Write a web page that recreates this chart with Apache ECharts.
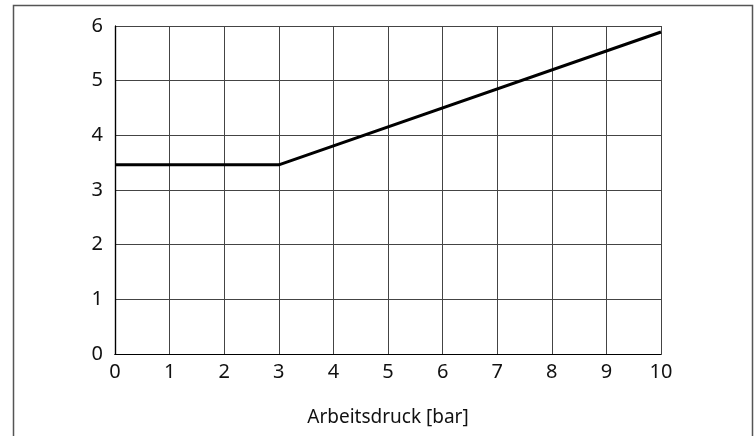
<!DOCTYPE html>
<html><head><meta charset="utf-8">
<script src="https://cdn.jsdelivr.net/npm/echarts@6/dist/echarts.min.js"></script>
<style>html,body{margin:0;padding:0;background:#fff}#c{width:756px;height:436px}</style>
</head><body><div id="c"></div>
<script>
const xValues = [0, 3, 10];
const yValues = [3.46, 3.46, 5.89];
const xTicks = [0,1,2,3,4,5,6,7,8,9,10];
const yTicks = [0,1,2,3,4,5,6];
const xTitle = 'Arbeitsdruck [bar]';

const chart = echarts.init(document.getElementById('c'));
const font = 'Noto Sans';
const frameAxis = {show: true, lineStyle: {color: '#000', width: 1.2}};
chart.setOption({
  animation: false,
  backgroundColor: '#fff',
  graphic: [{
    type: 'rect', shape: {x: 13.5, y: 5.5, width: 739, height: 460},
    style: {fill: 'none', stroke: '#555', lineWidth: 1.5}, z: 0
  }],
  grid: {left: 115, top: 26, right: 95, bottom: 82, containLabel: false},
  xAxis: [{
    type: 'value', min: xTicks[0], max: xTicks[xTicks.length-1], interval: 1,
    name: xTitle, nameLocation: 'middle', nameGap: 54,
    nameTextStyle: {fontFamily: font, fontSize: 19, color: '#111'},
    axisLine: frameAxis,
    axisTick: {show: false},
    axisLabel: {fontFamily: font, fontSize: 20, color: '#111', margin: 8},
    splitLine: {show: true, lineStyle: {color: '#444', width: 1}}
  }, {
    type: 'value', position: 'top', min: 0, max: 10, axisLine: frameAxis,
    axisTick: {show: false}, axisLabel: {show: false}, splitLine: {show: false}
  }],
  yAxis: [{
    type: 'value', min: yTicks[0], max: yTicks[yTicks.length-1], interval: 1,
    axisLine: frameAxis,
    axisTick: {show: false},
    axisLabel: {fontFamily: font, fontSize: 20, color: '#111', margin: 12},
    splitLine: {show: true, lineStyle: {color: '#444', width: 1}}
  }, {
    type: 'value', position: 'right', min: 0, max: 6, axisLine: frameAxis,
    axisTick: {show: false}, axisLabel: {show: false}, splitLine: {show: false}
  }],
  series: [{
    type: 'line', data: xValues.map((x, i) => [x, yValues[i]]),
    symbol: 'none', lineStyle: {color: '#000', width: 3}, z: 5
  }]
});
</script></body></html>
